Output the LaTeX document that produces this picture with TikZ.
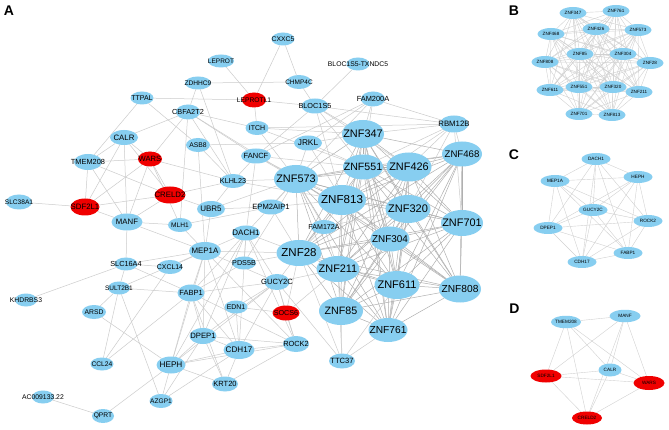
\documentclass[tikz,border=0pt]{standalone}
\usepackage{fontspec}
\setmainfont{Liberation Sans}
\usetikzlibrary{shapes.geometric}
\pgfdeclarelayer{back}
\pgfdeclarelayer{bg}
\pgfsetlayers{back,bg,main}
\definecolor{nblue}{RGB}{135,206,240}
\definecolor{nred}{RGB}{240,0,0}
\newcommand\fsz[1]{\fontsize{#1}{#1}\selectfont}
\newcommand\nlab[1]{\makebox[0pt][c]{#1}}
\tikzset{
  gn/.style={ellipse, inner sep=0pt, outer sep=0pt, text=black},
  pedge/.style={draw=gray!40, line width=0.5pt},
  zedge/.style={draw=gray!62, line width=0.5pt},
  sedge/.style={draw=gray!36, line width=0.4pt},
  plabel/.style={font=\bfseries\fsz{14}, inner sep=0pt}
}
\begin{document}
\begin{tikzpicture}[x=1pt,y=-1pt]
\useasboundingbox (0,0) rectangle (669,430);
\begin{pgfonlayer}{back}
\fill[white] (0,0) rectangle (669,430);
\end{pgfonlayer}
% panel labels
\node[plabel] (labA) at (9,11) {A};
\node[plabel] (labB) at (514,10.5) {B};
\node[plabel] (labC) at (514,155) {C};
\node[plabel] (labD) at (514.5,309) {D};
% ---------- panel A nodes ----------
\foreach \n/\x/\y/\w/\h/\f/\c/\t in {
 a347/363/134/42/28/10.9/nblue/ZNF347,
 a551/363/167/40/25/10.6/nblue/ZNF551,
 a426/409/167/45/29/10.9/nblue/ZNF426,
 a468/462/154/40/25/9.6/nblue/ZNF468,
 a573/296/179/44/28/10.9/nblue/ZNF573,
 a813/342/200/48/30/11.6/nblue/ZNF813,
 a320/408/209/45/28/11/nblue/ZNF320,
 a701/462/223/42/26/10.9/nblue/ZNF701,
 a304/390/239/39/25/9.9/nblue/ZNF304,
 a28/299/253/45/26/11.5/nblue/ZNF28,
 a211/338/269/43/26/10.9/nblue/ZNF211,
 a611/397/285/45/28/11/nblue/ZNF611,
 a808/460/289/42/27/10.2/nblue/ZNF808,
 a85/341/311/44/28/10.7/nblue/ZNF85,
 a761/388/330/39/24/10.2/nblue/ZNF761,
 CXXC5/283/39/23/13/6.8/nblue/CXXC5,
 LEPROT/221/61/26/13/6.5/nblue/LEPROT,
 TXNDC5/358/64/23/13/6.8/nblue/BLOC1S5-TXNDC5,
 ZDHHC9/198/83/26/13/6.6/nblue/ZDHHC9,
 CHMP4C/299/82/25/14/6.5/nblue/CHMP4C,
 LEPROTL1/254/100/24/15/6.7/nred/LEPROTL1,
 TTPAL/142/98/23/13/7/nblue/TTPAL,
 FAM200A/373/99/24/15/7.4/nblue/FAM200A,
 BLOC1S5/315/106/27/15/7.3/nblue/BLOC1S5,
 CBFA2T2/188/112/24/15/7.3/nblue/CBFA2T2,
 ITCH/257/128/23/14/7/nblue/ITCH,
 RBM12B/454/124/29/17/7.8/nblue/RBM12B,
 ASB8/198/145/24/14/6.8/nblue/ASB8,
 JRKL/308/143/28/15/8.3/nblue/JRKL,
 CALR/124/137.5/28/15/7.8/nblue/CALR,
 FANCF/256/156/30/15/7.5/nblue/FANCF,
 TMEM208/88/162/28/16/7.4/nblue/TMEM208,
 WARS/150/159/24/15/7.6/nred/WARS,
 KLHL23/233/181/26/14/7.2/nblue/KLHL23,
 CRELD2/170/195/31/17/7.8/nred/CRELD2,
 SDF2L1/85/207/29/17/7.8/nred/SDF2L1,
 SLC38A1/19/202/26/15/6.6/nblue/SLC38A1,
 EPM2AIP1/271/207/28/15/7.6/nblue/EPM2AIP1,
 UBR5/211/209/28/16/8/nblue/UBR5,
 MANF/127/222/31/17/7.8/nblue/MANF,
 MLH1/180/225/24/14/6.6/nblue/MLH1,
 FAM172A/324/227/26/14/7.1/nblue/FAM172A,
 DACH1/246/233/28/15/8/nblue/DACH1,
 MEP1A/205/251/32/18/7.9/nblue/MEP1A,
 PDS5B/244/263/24/13/7.2/nblue/PDS5B,
 SLC16A4/126/264/23/13/7.3/nblue/SLC16A4,
 CXCL14/170/267/25/14/6.9/nblue/CXCL14,
 GUCY2C/277/282/25/16/7.6/nblue/GUCY2C,
 SULT2B1/119/288/22/13/6.5/nblue/SULT2B1,
 FABP1/191/293/27/17/7.5/nblue/FABP1,
 KHDRBS3/26/300/22/13/6.8/nblue/KHDRBS3,
 EDN1/236/307/23/13/6.9/nblue/EDN1,
 SOCS6/286/313/27/15/7.2/nred/SOCS6,
 ARSD/94/312/24/14/6.8/nblue/ARSD,
 DPEP1/203/336/27/16/7.7/nblue/DPEP1,
 CDH17/239/350/31/18/8.1/nblue/CDH17,
 ROCK2/296/344/26/16/7.4/nblue/ROCK2,
 TTC37/342/361/26/15/7.6/nblue/TTC37,
 CCL24/102/364/23/13/6.7/nblue/CCL24,
 HEPH/171/365/29/17/8.2/nblue/HEPH,
 KRT20/225/384/26/15/7.5/nblue/KRT20,
 AC/43/397/22/13/6.8/nblue/AC009133.22,
 AZGP1/161/401/23/14/6.6/nblue/AZGP1,
 QPRT/103/416/22/14/6.7/nblue/QPRT}
 \node[gn, fill=\c, minimum width=\w, minimum height=\h, font=\fsz{\f}] (\n) at (\x,\y) {\nlab{\t}};
% ---------- panel B nodes ----------
\foreach \n/\x/\y/\t in {
 b347/573/13/ZNF347, b761/616/11/ZNF761, b426/596/29/ZNF426, b573/638/30/ZNF573,
 b468/551/34/ZNF468, b85/580/54/ZNF85, b304/623/54/ZNF304, b808/545/62/ZNF808,
 b28/650/63/ZNF28, b611/550/90/ZNF611, b551/579/87/ZNF551, b320/613/87/ZNF320,
 b211/639/92/ZNF211, b701/579/114/ZNF701, b813/612/115/ZNF813}
 \node[gn, fill=nblue, minimum width=27, minimum height=12, font=\fsz{4.6}] (\n) at (\x,\y) {\nlab{\t}};
% ---------- panel C nodes ----------
\foreach \n/\x/\y/\t in {
 cDACH1/596/159/DACH1, cMEP1A/555/181/MEP1A, cHEPH/638/177/HEPH, cGUCY2C/593/210/GUCY2C,
 cROCK2/648/221/ROCK2, cDPEP1/548/228/DPEP1, cFABP1/628/253/FABP1, cCDH17/582/262/CDH17}
 \node[gn, fill=nblue, minimum width=29, minimum height=12, font=\fsz{4.7}] (\n) at (\x,\y) {\nlab{\t}};
% ---------- panel D nodes ----------
\foreach \n/\x/\y/\w/\h/\c/\t in {
 dTMEM208/566/322/30/12.5/nblue/TMEM208, dMANF/625/316/31/12.5/nblue/MANF,
 dCALR/610/370/23/13/nblue/CALR, dSDF2L1/546/376/31/13/nred/SDF2L1,
 dWARS/649/383/31/14/nred/WARS, dCRELD2/587/418/30/13/nred/CRELD2}
 \node[gn, fill=\c, minimum width=\w, minimum height=\h, font=\fsz{4.7}] (\n) at (\x,\y) {\nlab{\t}};
% ---------- edges ----------
\begin{pgfonlayer}{bg}
% ZNF clique in A
\foreach \p [count=\i] in {347,551,426,468,573,813,320,701,304,28,211,611,808,85,761}{
  \foreach \q [count=\j] in {347,551,426,468,573,813,320,701,304,28,211,611,808,85,761}{
    \ifnum\j>\i \draw[zedge] (a\p) -- (a\q); \fi
  }
}
% other A edges
\foreach \u/\v in {
 TXNDC5/BLOC1S5, CXXC5/LEPROTL1, CXXC5/CHMP4C, LEPROT/LEPROTL1,
 ZDHHC9/CHMP4C, ZDHHC9/CBFA2T2, ZDHHC9/KLHL23, CHMP4C/BLOC1S5,
 LEPROTL1/BLOC1S5, LEPROTL1/ITCH, LEPROTL1/TTPAL, TTPAL/ASB8, TTPAL/TMEM208,
 BLOC1S5/a347, BLOC1S5/RBM12B, BLOC1S5/FANCF, BLOC1S5/a551, BLOC1S5/a813, BLOC1S5/a426,
 FAM200A/RBM12B, FAM200A/a347, FAM200A/a573, FAM200A/a551, FAM200A/JRKL, FAM200A/FANCF,
 ITCH/a347, ITCH/a573, ITCH/CBFA2T2, ITCH/a551, ITCH/RBM12B,
 RBM12B/a347, RBM12B/a426, RBM12B/a468, RBM12B/a551, RBM12B/a320, RBM12B/a813, RBM12B/a701,
 JRKL/a347, JRKL/a573, JRKL/a813, JRKL/a551, JRKL/ASB8,
 CBFA2T2/CALR, CBFA2T2/FANCF, CBFA2T2/a573, CBFA2T2/MLH1, CBFA2T2/KLHL23, CBFA2T2/WARS,
 ASB8/KLHL23, ASB8/MEP1A,
 FANCF/a573, FANCF/a813, FANCF/KLHL23, FANCF/DACH1, FANCF/a551,
 KLHL23/a573, KLHL23/CRELD2, KLHL23/UBR5, KLHL23/a813, KLHL23/WARS,
 EPM2AIP1/a573, EPM2AIP1/a813, EPM2AIP1/MLH1, EPM2AIP1/a28, EPM2AIP1/UBR5,
 UBR5/a573, UBR5/MEP1A, UBR5/CRELD2,
 FAM172A/a813, FAM172A/a28, FAM172A/a211, FAM172A/a573, FAM172A/a320,
 DACH1/MEP1A, DACH1/HEPH, DACH1/GUCY2C, DACH1/CDH17, DACH1/FABP1, DACH1/DPEP1, DACH1/ROCK2, DACH1/a573, DACH1/a28,
 MLH1/MEP1A, MLH1/MANF, MLH1/WARS,
 PDS5B/a28, PDS5B/a573, PDS5B/DACH1, PDS5B/FABP1,
 MEP1A/MANF, MEP1A/SLC16A4, MEP1A/CXCL14, MEP1A/SULT2B1, MEP1A/a28, MEP1A/HEPH,
 MEP1A/GUCY2C, MEP1A/CDH17, MEP1A/FABP1, MEP1A/DPEP1, MEP1A/ROCK2,
 SLC16A4/KHDRBS3, SLC16A4/MANF, SLC16A4/SULT2B1, SLC16A4/CXCL14, SLC16A4/FABP1,
 SULT2B1/FABP1, SULT2B1/CCL24, SULT2B1/AZGP1, SULT2B1/ARSD,
 ARSD/HEPH, CCL24/FABP1, CCL24/CXCL14,
 HEPH/QPRT, HEPH/AZGP1, HEPH/KRT20, HEPH/CDH17, HEPH/DPEP1, HEPH/FABP1, HEPH/GUCY2C, HEPH/ROCK2,
 QPRT/AC, AZGP1/DPEP1, AZGP1/CDH17,
 KRT20/CDH17, KRT20/ROCK2, KRT20/DPEP1, KRT20/FABP1,
 CDH17/ROCK2, CDH17/GUCY2C, CDH17/DPEP1, CDH17/FABP1, CDH17/EDN1,
 EDN1/SOCS6, EDN1/GUCY2C,
 SOCS6/GUCY2C, SOCS6/ROCK2, SOCS6/a211, SOCS6/a28,
 GUCY2C/a211, GUCY2C/TTC37, GUCY2C/FABP1, GUCY2C/DPEP1, GUCY2C/ROCK2, GUCY2C/a28,
 ROCK2/FABP1, ROCK2/DPEP1,
 TTC37/a85, TTC37/a611, TTC37/a211, TTC37/a28, TTC37/a761,
 FABP1/DPEP1,
 CALR/WARS, CALR/SDF2L1, CALR/MANF, CALR/CRELD2, CALR/TMEM208,
 TMEM208/SDF2L1, TMEM208/CRELD2, TMEM208/MANF, TMEM208/WARS,
 WARS/SDF2L1, WARS/CRELD2, WARS/MANF,
 SDF2L1/CRELD2, SDF2L1/MANF, CRELD2/MANF, SLC38A1/SDF2L1}
 \draw[pedge] (\u) -- (\v);
% panel B clique
\foreach \p [count=\i] in {347,761,426,573,468,85,304,808,28,611,551,320,211,701,813}{
  \foreach \q [count=\j] in {347,761,426,573,468,85,304,808,28,611,551,320,211,701,813}{
    \ifnum\j>\i \draw[sedge] (b\p) -- (b\q); \fi
  }
}
% panel C
\foreach \p [count=\i] in {DACH1,MEP1A,HEPH,GUCY2C,ROCK2,DPEP1,FABP1,CDH17}{
  \foreach \q [count=\j] in {DACH1,MEP1A,HEPH,GUCY2C,ROCK2,DPEP1,FABP1,CDH17}{
    \ifnum\j>\i \draw[sedge] (c\p) -- (c\q); \fi
  }
}
% panel D
\foreach \p [count=\i] in {TMEM208,MANF,CALR,SDF2L1,WARS,CRELD2}{
  \foreach \q [count=\j] in {TMEM208,MANF,CALR,SDF2L1,WARS,CRELD2}{
    \ifnum\j>\i \draw[sedge] (d\p) -- (d\q); \fi
  }
}
\end{pgfonlayer}
\end{tikzpicture}
\end{document}
